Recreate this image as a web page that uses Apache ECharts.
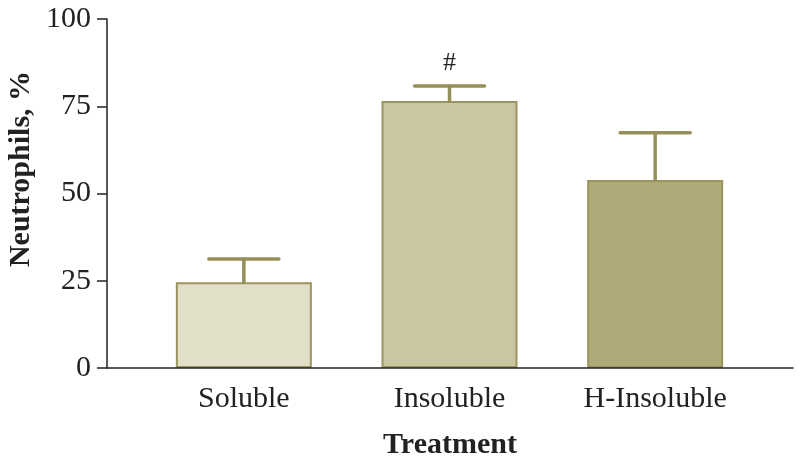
<!DOCTYPE html>
<html><head><meta charset="utf-8">
<script src="https://cdn.jsdelivr.net/npm/echarts@6/dist/echarts.min.js"></script>
<style>html,body{margin:0;padding:0;background:#fff}#c{width:800px;height:464px}</style>
</head><body><div id="c"></div>
<script>
const categories = ['Soluble', 'Insoluble', 'H-Insoluble'];
const values = [24.6, 76.5, 53.9];
const errorUpper = [31.2, 80.8, 67.4];
const annotations = ['', '#', ''];
const yTicks = [0, 25, 50, 75, 100];
const barColors = ['#e1dfc8', '#c9c6a0', '#aeaa7a'];
const yTitle = 'Neutrophils, %';
const xTitle = 'Treatment';

const chart = echarts.init(document.getElementById('c'));
const font = '"Liberation Serif", "DejaVu Serif", serif';
const gridTop = 19, gridBottom = 96;
chart.setOption({
  animation: false,
  graphic: [
    {type: 'text', x: 21, y: 169, rotation: Math.PI / 2,
     style: {text: yTitle, font: 'bold 30px ' + font, fill: '#222', align: 'center', verticalAlign: 'middle'}}
  ],
  grid: [
    {left: 107, right: 7, top: gridTop, bottom: gridBottom, containLabel: false, outerBoundsMode: 'none'},
    {left: 141, right: 42, top: gridTop, bottom: gridBottom, containLabel: false, outerBoundsMode: 'none'}
  ],
  xAxis: [
    {gridIndex: 0, type: 'value', min: 0, max: 1, axisLine: {show: true, lineStyle: {color: '#222', width: 1.5}},
     axisTick: {show: false}, axisLabel: {show: false}, splitLine: {show: false}, z: 5,
     name: xTitle, nameLocation: 'middle', nameGap: 62,
     nameTextStyle: {fontFamily: font, fontWeight: 'bold', fontSize: 30, color: '#222'}},
    {gridIndex: 1, type: 'category', data: categories, axisLine: {show: false}, axisTick: {show: false},
     axisLabel: {fontFamily: font, fontSize: 30, color: '#222', margin: 16}}
  ],
  yAxis: [
    {gridIndex: 0, type: 'value', min: 0, max: 100, interval: 25,
     axisLine: {show: true, lineStyle: {color: '#222', width: 1.5}},
     axisTick: {show: true, length: 10, lineStyle: {color: '#222', width: 1.5}},
     axisLabel: {fontFamily: font, fontSize: 30, color: '#222', margin: 16,
       formatter: v => yTicks.includes(v) ? String(v) : ''},
     splitLine: {show: false}},
    {gridIndex: 1, type: 'value', min: 0, max: 100, show: false}
  ],
  series: [
    {type: 'bar', xAxisIndex: 1, yAxisIndex: 1, barWidth: 136,
     data: values.map((v, i) => ({value: v, itemStyle: {color: barColors[i]}})),
     itemStyle: {borderColor: '#9a945e', borderWidth: 2}, z: 2},
    {type: 'custom', xAxisIndex: 1, yAxisIndex: 1, z: 3,
     data: categories.map((c, i) => [i, values[i], errorUpper[i]]),
     renderItem: (params, api) => {
       const i = api.value(0);
       const base = api.coord([i, api.value(1)]);
       const top = api.coord([i, api.value(2)]);
       const half = 35;
       const st = {stroke: '#958f5a', lineWidth: 3.5, lineCap: 'round'};
       const children = [
         {type: 'line', shape: {x1: base[0], y1: base[1], x2: top[0], y2: top[1]}, style: st},
         {type: 'line', shape: {x1: top[0] - half, y1: top[1], x2: top[0] + half, y2: top[1]}, style: st}
       ];
       if (annotations[i]) {
         children.push({type: 'text', style: {text: annotations[i], x: top[0], y: top[1] - 23,
           textAlign: 'center', textVerticalAlign: 'middle', font: '26px ' + font, fill: '#222'}});
       }
       return {type: 'group', children};
     }}
  ]
});
</script></body></html>
